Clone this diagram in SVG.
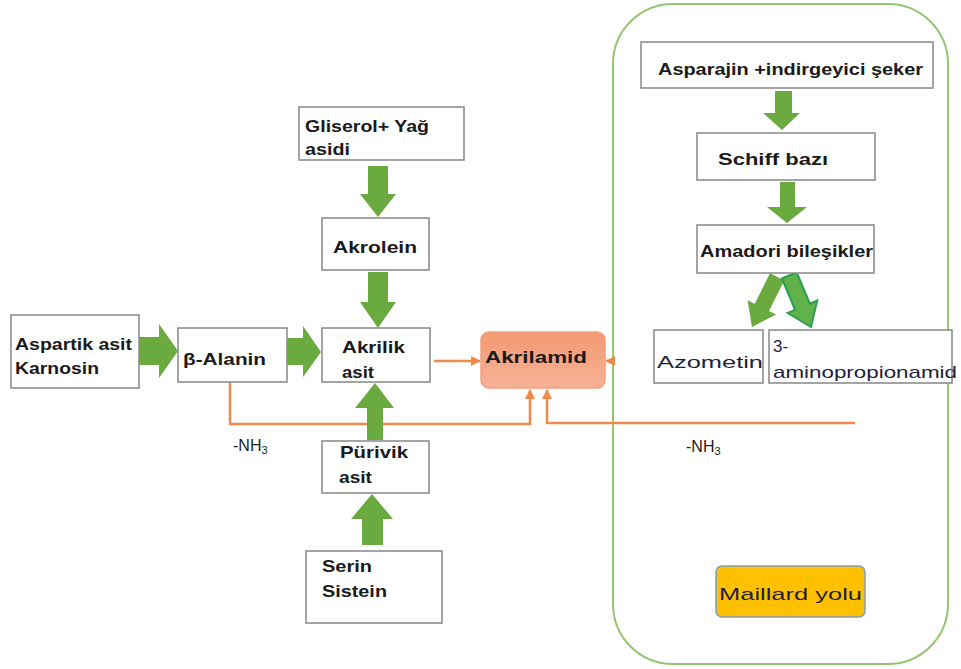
<svg xmlns="http://www.w3.org/2000/svg" width="961" height="669" viewBox="0 0 961 669">
<defs>
<marker id="oa" markerUnits="userSpaceOnUse" markerWidth="10" markerHeight="10" refX="9" refY="5" orient="auto">
<path d="M0,0 L10,5 L0,10 Z" fill="#F08A4B"/>
</marker>
<linearGradient id="ag" x1="0" y1="0" x2="0" y2="1">
<stop offset="0" stop-color="#F49A73"/>
<stop offset="1" stop-color="#F6B194"/>
</linearGradient>
<style>
.box{fill:#fff;stroke:#8e8e8e;stroke-width:1.6}
.t{font-family:"Liberation Sans",Arial,sans-serif;font-weight:700;font-size:17px;fill:#1a1a1a}
.r{font-family:"Liberation Sans",Arial,sans-serif;font-size:17px;fill:#1f1f3a}
.nh{font-family:"Liberation Sans",Arial,sans-serif;font-size:16px;fill:#222}
.ga{fill:#6AAA3F}
.ol{fill:none;stroke:#F08A4B;stroke-width:2.5}
</style>
</defs>
<rect width="961" height="669" fill="#fff"/>

<g id="maillard-container">
<rect x="613" y="4" width="335" height="660" rx="60" ry="60" fill="none" stroke="#93C572" stroke-width="2"/>
</g>

<g id="connectors">
<path class="ol" d="M434,361 H480" marker-end="url(#oa)"/>
<path class="ol" d="M615,361 H606" marker-end="url(#oa)"/>
<path class="ol" d="M230,382 V424 H530 V390" marker-end="url(#oa)"/>
<path class="ol" d="M855,423 H547 V390" marker-end="url(#oa)"/>
<polygon class="ga" points="139,337 159,337 159,324 178,351 159,378 159,365 139,365"/>
<polygon class="ga" points="287,338 303,338 303,326 321,352 303,377 303,365 287,365"/>
<polygon class="ga" points="368,166 388,166 388,194 396,194 378,217 360,194 368,194"/>
<polygon class="ga" points="368,272 388,272 388,302 396,302 378,328 360,302 368,302"/>
<polygon class="ga" points="367,440 383,440 383,408 394,408 375,383 355,408 367,408"/>
<polygon class="ga" points="362,545 383,545 383,519 393,519 372,494 351,519 362,519"/>
<polygon class="ga" points="775,91 792,91 792,113 800,113 782,130 763,113 775,113"/>
<polygon class="ga" points="780,182 795,182 795,207 807,207 787,223 767,207 780,207"/>
<polygon class="ga" transform="translate(752,327) rotate(26.6)" points="-8,-56 8,-56 8,-22 16,-22 0,0 -16,-22 -8,-22"/>
<polygon transform="translate(811,327) rotate(-22.8)" points="-8,-56 8,-56 8,-22 16,-22 0,0 -16,-22 -8,-22" fill="#62B24C" stroke="#2A9E4E" stroke-width="2"/>
</g>

<g id="aspartik">
<rect class="box" x="11" y="315" width="128" height="73" stroke="#6f6f6f"/>
<text class="t" x="15" y="350" textLength="117" lengthAdjust="spacingAndGlyphs">Aspartik asit</text>
<text class="t" x="15" y="374" textLength="84" lengthAdjust="spacingAndGlyphs">Karnosin</text>
</g>
<g id="beta-alanin">
<rect class="box" x="178" y="328" width="109" height="54"/>
<text class="t" x="183" y="365" textLength="83" lengthAdjust="spacingAndGlyphs">β-Alanin</text>
</g>
<g id="akrilik">
<rect class="box" x="322" y="328" width="108" height="54"/>
<text class="t" x="342" y="353" textLength="63" lengthAdjust="spacingAndGlyphs">Akrilik</text>
<text class="t" x="342" y="378" textLength="32" lengthAdjust="spacingAndGlyphs">asit</text>
</g>
<g id="akrilamid">
<rect x="481" y="332" width="124" height="56" rx="8" fill="url(#ag)" stroke="#F3A07E" stroke-width="1.5"/>
<text class="t" x="485" y="363" font-size="19" textLength="102" lengthAdjust="spacingAndGlyphs">Akrilamid</text>
</g>
<g id="gliserol">
<rect class="box" x="299" y="107" width="165" height="53"/>
<text class="t" x="305" y="132" textLength="124" lengthAdjust="spacingAndGlyphs">Gliserol+ Yağ</text>
<text class="t" x="305" y="155" textLength="45" lengthAdjust="spacingAndGlyphs">asidi</text>
</g>
<g id="akrolein">
<rect class="box" x="322" y="218" width="107" height="52"/>
<text class="t" x="333" y="253" textLength="84" lengthAdjust="spacingAndGlyphs">Akrolein</text>
</g>
<g id="purivik">
<rect class="box" x="322" y="441" width="107" height="52"/>
<text class="t" x="340" y="458" textLength="68" lengthAdjust="spacingAndGlyphs">Pürivik</text>
<text class="t" x="339" y="483" textLength="33" lengthAdjust="spacingAndGlyphs">asit</text>
</g>
<g id="serin">
<rect class="box" x="306" y="551" width="136" height="72"/>
<text class="t" x="322" y="572" textLength="50" lengthAdjust="spacingAndGlyphs">Serin</text>
<text class="t" x="322" y="597" textLength="65" lengthAdjust="spacingAndGlyphs">Sistein</text>
</g>
<g id="asparajin">
<rect class="box" x="641" y="42" width="292" height="46"/>
<text class="t" x="658" y="75" textLength="265" lengthAdjust="spacingAndGlyphs">Asparajin +indirgeyici şeker</text>
</g>
<g id="schiff">
<rect class="box" x="697" y="133" width="178" height="47"/>
<text class="t" x="718" y="165" font-size="19" textLength="110" lengthAdjust="spacingAndGlyphs">Schiff bazı</text>
</g>
<g id="amadori">
<rect class="box" x="697" y="225" width="177" height="48"/>
<text class="t" x="700" y="257" textLength="173" lengthAdjust="spacingAndGlyphs">Amadori bileşikler</text>
</g>
<g id="azometin">
<rect class="box" x="654" y="330" width="109" height="53"/>
<text class="r" x="657" y="368" font-size="18" textLength="106" lengthAdjust="spacingAndGlyphs">Azometin</text>
</g>
<g id="aminopropionamid">
<rect class="box" x="769" y="330" width="183" height="53"/>
<text class="r" x="773" y="352">3-</text>
<text class="r" x="773" y="378" textLength="184" lengthAdjust="spacingAndGlyphs">aminopropionamid</text>
</g>
<g id="nh3-left">
<text class="nh" x="233" y="451">-NH<tspan font-size="11" dy="3">3</tspan></text>
</g>
<g id="nh3-right">
<text class="nh" x="686" y="452">-NH<tspan font-size="11" dy="3">3</tspan></text>
</g>
<g id="maillard-yolu">
<rect x="716" y="566" width="149" height="51" rx="6" fill="#FFC000" stroke="#7F9DB9" stroke-width="1.5"/>
<text class="r" x="719" y="600" textLength="143" lengthAdjust="spacingAndGlyphs" font-size="19" fill="#1a1a1a">Maillard yolu</text>
</g>
</svg>
